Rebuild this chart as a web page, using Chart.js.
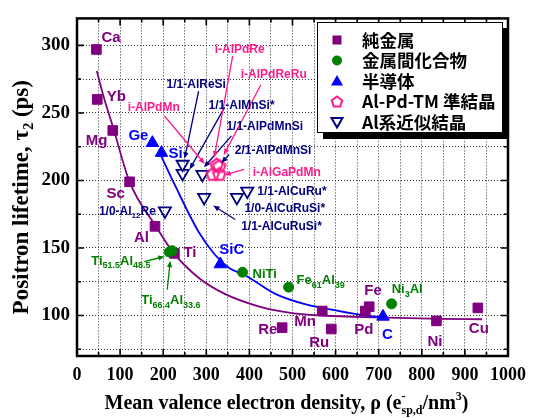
<!DOCTYPE html>
<html>
<head>
<meta charset="utf-8">
<script src="https://cdn.jsdelivr.net/npm/chart.js@4.4.1/dist/chart.umd.min.js"></script>
<style>
  html, body { margin: 0; padding: 0; background: #fff; }
  #wrap { width: 535px; height: 418px; }
</style>
</head>
<body>
<div id="wrap"><canvas id="c" width="535" height="418"></canvas></div>
<script>
// Positron lifetime tau2 (ps) against mean valence electron density rho (e-/nm^3)

// Pure metals
const metalNames = ['Ca', 'Yb', 'Mg', 'Sc', 'Al', 'Ti', 'Re', 'Mn', 'Ru', 'Pd', 'Fe', 'Ni', 'Cu'];
const metalRho   = [45, 47, 83, 122, 181, 226, 476, 569, 590, 669, 678, 834, 930];
const metalTau   = [297, 260, 237, 199, 166, 146, 91, 103.3, 90, 103.3, 106.5, 96, 105.6];

// Intermetallic compounds
const interNames = ['Ti51.5Al48.5', 'Ti66.4Al33.6', 'NiTi', 'Fe61Al39', 'Ni3Al'];
const interRho   = [214, 221, 384, 491, 730];
const interTau   = [147, 148, 132, 121, 108.6];

// Semiconductors
const semiNames = ['Ge', 'Si', 'SiC', 'C'];
const semiRho   = [175, 196, 332.5, 710];
const semiTau   = [227.8, 220.5, 138, 99.2];

// Al-Pd-TM quasicrystals
const qcNames = ['i-AlPdRe', 'i-AlPdReRu', 'i-AlPdMn', 'i-AlGaPdMn'];
const qcRho   = [324, 330, 315, 330];
const qcTau   = [211.8, 210.7, 204.8, 204.8];

// Al-based approximants
const apxNames = ['1/1-AlReSi', '1/1-AlMnSi*', '1/1-AlPdMnSi', '1/1-AlCuRuSi*', '1/0-AlCuRuSi*', '1/1-AlCuRu*', '1/0-Al12Re'];
const apxRho   = [245, 245, 291, 295, 371, 395, 204];
const apxTau   = [212, 205.2, 204.5, 187.4, 187.4, 192.1, 177.5];

// Guide curves
const metalCurveRho = [46, 60, 84, 122, 183, 225, 282, 343, 419, 495, 571, 693, 845, 940];
const metalCurveTau = [281, 264, 239, 199, 166, 146, 128, 116, 107, 102, 100, 98.6, 97.5, 97.2];
const semiCurveRho  = [194, 225, 282, 320, 354, 389, 460, 533, 571, 655, 712];
const semiCurveTau  = [219, 198, 162, 145, 135, 130, 116, 108, 105.5, 100.6, 98.5];

// Axis ticks
const xTicks = [0, 50, 100, 150, 200, 250, 300, 350, 400, 450, 500, 550, 600, 650, 700, 750, 800, 850, 900, 950, 1000];
const yTicks = [75, 100, 125, 150, 175, 200, 225, 250, 275, 300];
const xLabelStep = 100;
const yLabelStep = 50;

const legendItems = ['純金属', '金属間化合物', '半導体', 'Al-Pd-TM 準結晶', 'Al系近似結晶'];

const COL = {
  metal: '#800080',
  inter: '#008000',
  semi: '#0000ff',
  qc: '#ff1a8c',
  apx: '#000080'
};

// Text placement relative to each marker: [dx, dy] in px (left edge, baseline)
const labelStyle = {
  metal: { size: 15, color: COL.metal },
  semi:  { size: 15, color: COL.semi },
  inter: { size: 13, color: COL.inter },
  apx:   { size: 12, color: COL.apx },
  qc:    { size: 12, color: COL.qc }
};
const labelOffsets = {
  metal: [[5, -7.6], [9.4, 1.4], [-27, 15], [-23, 16], [-21, 16], [9, 4], [-24, 6], [-28, 15], [-22, 18], [-11, 23], [-5, -12], [-9, 25], [-9, 25]],
  semi:  [[-24, -2.5], [7, 5.5], [-1, -10], [-1, 22]],
  inter: [[-78, 12.5], [-31, 53], [10, 6], [8, -3], [0, -11]],
  apx:   [[-16, -76], [26, -64], [24, -44], [37, 33], [7.5, 15], [10, 3.5], [-66, 4]],
  qc:    [[-2, -111.5], [21.5, -88], [-85, -63], [33.5, 2]]
};
// Leader arrows: [group, index, sx, sy, ex, ey] relative to the marker
const arrows = [
  ['inter', 0, -25, 9.5, -4.5, 4.5],
  ['inter', 1, -5, 39, -2, 10],
  ['apx', 0, 16, -73, 2, -5.5],
  ['apx', 1, 42, -66, 7, -4],
  ['apx', 2, 29, -38.5, 1.5, -7],
  ['apx', 3, 31, 22, 9, 8],
  ['qc', 0, 16, -108.5, -2.4, -7],
  ['qc', 1, 41.5, -81, 4.5, -11],
  ['qc', 2, -48.3, -58, -8, -10],
  ['qc', 3, 25, -4.5, 5, 1],
  ['qc', 1, 10, -11.5, 2, -3, COL.apx]
];
// Extra label sharing the quasicrystal cluster
const extraLabels = [['qc', 1, '2/1-AlPdMnSi', 15.5, -12, 'apx']];

const groups = {
  metal: { rho: metalRho, tau: metalTau, names: metalNames },
  inter: { rho: interRho, tau: interTau, names: interNames },
  semi:  { rho: semiRho,  tau: semiTau,  names: semiNames },
  qc:    { rho: qcRho,    tau: qcTau,    names: qcNames },
  apx:   { rho: apxRho,   tau: apxTau,   names: apxNames }
};

function pts(xs, ys) { return xs.map((x, i) => ({ x: x, y: ys[i] })); }

// Pentagon marker
function makePentagon(r, color, lw) {
  const s = Math.ceil(2 * r + lw + 4);
  const cv = document.createElement('canvas');
  cv.width = s; cv.height = s;
  const g = cv.getContext('2d');
  pentagonPath(g, s / 2, s / 2 + 0.6, r);
  g.strokeStyle = color; g.lineWidth = lw; g.lineJoin = 'miter';
  g.stroke();
  return cv;
}
function pentagonPath(g, cx, cy, r) {
  g.beginPath();
  for (let k = 0; k < 5; k++) {
    const a = -Math.PI / 2 + k * 2 * Math.PI / 5;
    const x = cx + r * Math.cos(a), y = cy + r * Math.sin(a);
    if (k === 0) g.moveTo(x, y); else g.lineTo(x, y);
  }
  g.closePath();
}
const pentagonImg = makePentagon(6.5, COL.qc, 2);

// Split chemical formulas so that numbers following an element become subscripts
function parseFormula(s) {
  const out = [];
  let i = 0;
  const isSub = (k) => /[0-9]/.test(s[k]) && k > 0 && /[A-Za-z]/.test(s[k - 1]);
  while (i < s.length) {
    if (isSub(i)) {
      let j = i; while (j < s.length && /[0-9.]/.test(s[j])) j++;
      out.push({ t: s.slice(i, j), sub: true }); i = j;
    } else {
      let j = i + 1; while (j < s.length && !isSub(j)) j++;
      out.push({ t: s.slice(i, j), sub: false }); i = j;
    }
  }
  return out;
}
const SANS = '"Liberation Sans", Arial, sans-serif';
const SERIF = '"Liberation Serif", "Times New Roman", serif';
function drawRich(ctx, text, x, y, size, color) {
  const runs = parseFormula(text);
  const subSize = Math.round(size * 0.68);
  ctx.fillStyle = color;
  ctx.textAlign = 'left';
  ctx.textBaseline = 'alphabetic';
  let cx = x;
  for (const r of runs) {
    if (r.sub) { ctx.font = `bold ${subSize}px ${SANS}`; ctx.fillText(r.t, cx, y + size * 0.3); }
    else { ctx.font = `bold ${size}px ${SANS}`; ctx.fillText(r.t, cx, y); }
    cx += ctx.measureText(r.t).width;
  }
}
function drawArrow(ctx, sx, sy, ex, ey, color) {
  const ang = Math.atan2(ey - sy, ex - sx);
  const L = 6.5, W = 2.6;
  ctx.strokeStyle = color; ctx.fillStyle = color; ctx.lineWidth = 1.3;
  ctx.beginPath();
  ctx.moveTo(sx, sy);
  ctx.lineTo(ex - Math.cos(ang) * L * 0.8, ey - Math.sin(ang) * L * 0.8);
  ctx.stroke();
  ctx.beginPath();
  ctx.moveTo(ex, ey);
  ctx.lineTo(ex - L * Math.cos(ang) + W * Math.sin(ang), ey - L * Math.sin(ang) - W * Math.cos(ang));
  ctx.lineTo(ex - L * Math.cos(ang) - W * Math.sin(ang), ey - L * Math.sin(ang) + W * Math.cos(ang));
  ctx.closePath();
  ctx.fill();
}

// Frame, inward ticks, axis titles, annotations and legend
const decorPlugin = {
  id: 'decor',
  afterDatasetsDraw(chart) {
    const ctx = chart.ctx;
    const a = chart.chartArea;
    const xs = chart.scales.x, ys = chart.scales.y;
    ctx.save();

    // inward ticks on all four sides
    ctx.strokeStyle = '#000'; ctx.lineWidth = 1.6;
    xTicks.forEach(v => {
      const p = xs.getPixelForValue(v);
      const len = v % xLabelStep === 0 ? 7 : 4;
      ctx.beginPath();
      ctx.moveTo(p, a.bottom); ctx.lineTo(p, a.bottom - len);
      ctx.moveTo(p, a.top); ctx.lineTo(p, a.top + len);
      ctx.stroke();
    });
    yTicks.forEach(v => {
      const p = ys.getPixelForValue(v);
      const len = v % yLabelStep === 0 ? 7 : 4;
      ctx.beginPath();
      ctx.moveTo(a.left, p); ctx.lineTo(a.left + len, p);
      ctx.moveTo(a.right, p); ctx.lineTo(a.right - len, p);
      ctx.stroke();
    });
    // frame
    ctx.lineWidth = 2.5;
    ctx.strokeRect(a.left, a.top, a.right - a.left, a.bottom - a.top);

    // leader arrows
    const at = (g, i) => [xs.getPixelForValue(groups[g].rho[i]), ys.getPixelForValue(groups[g].tau[i])];
    arrows.forEach(([g, i, sx, sy, ex, ey, c]) => {
      const [x0, y0] = at(g, i);
      drawArrow(ctx, x0 + sx, y0 + sy, x0 + ex, y0 + ey, c || labelStyle[g].color);
    });

    // point labels
    Object.keys(groups).forEach(g => {
      groups[g].names.forEach((name, i) => {
        const [x0, y0] = at(g, i);
        const [dx, dy] = labelOffsets[g][i];
        drawRich(ctx, name, x0 + dx, y0 + dy, labelStyle[g].size, labelStyle[g].color);
      });
    });
    extraLabels.forEach(([g, i, text, dx, dy, st]) => {
      const [x0, y0] = at(g, i);
      drawRich(ctx, text, x0 + dx, y0 + dy, labelStyle[st].size, labelStyle[st].color);
    });

    // legend box with drop shadow
    const lb = { x: 317, y: 22, w: 186, h: 111 };
    ctx.fillStyle = '#000';
    ctx.fillRect(lb.x + 6, lb.y + 6, lb.w, lb.h);
    ctx.fillStyle = '#fff';
    ctx.fillRect(lb.x, lb.y, lb.w, lb.h);
    ctx.lineWidth = 1; ctx.strokeStyle = '#000';
    ctx.strokeRect(lb.x + 0.5, lb.y + 0.5, lb.w - 1, lb.h - 1);
    const mx = lb.x + 20, tx = lb.x + 45;
    legendItems.forEach((txt, k) => {
      const cy = lb.y + 18 + k * 20.5;
      ctx.save();
      if (k === 0) { ctx.fillStyle = COL.metal; ctx.fillRect(mx - 4.5, cy - 4.5, 9, 9); }
      if (k === 1) { ctx.fillStyle = COL.inter; ctx.beginPath(); ctx.arc(mx, cy, 5, 0, 2 * Math.PI); ctx.fill(); }
      if (k === 2) {
        ctx.fillStyle = COL.semi; ctx.beginPath();
        ctx.moveTo(mx, cy - 6); ctx.lineTo(mx + 6, cy + 4.5); ctx.lineTo(mx - 6, cy + 4.5); ctx.closePath(); ctx.fill();
      }
      if (k === 3) { pentagonPath(ctx, mx, cy + 0.5, 5.5); ctx.strokeStyle = COL.qc; ctx.lineWidth = 2; ctx.stroke(); }
      if (k === 4) {
        ctx.strokeStyle = COL.apx; ctx.lineWidth = 2; ctx.beginPath();
        ctx.moveTo(mx - 5.5, cy - 4); ctx.lineTo(mx + 5.5, cy - 4); ctx.lineTo(mx, cy + 5.5); ctx.closePath(); ctx.stroke();
      }
      ctx.restore();
      ctx.fillStyle = '#000';
      ctx.font = `bold 17.5px "Noto Sans CJK JP", "Noto Sans CJK SC", sans-serif`;
      ctx.textAlign = 'left'; ctx.textBaseline = 'middle';
      ctx.fillText(txt, tx, cy);
    });

    // axis titles
    ctx.fillStyle = '#000';
    ctx.textBaseline = 'alphabetic';
    ctx.textAlign = 'left';
    const big = `bold 20px ${SERIF}`, small = `bold 12px ${SERIF}`;
    const xParts = [['Mean valence electron density, \u03C1 (e', 0], ['-', 1, 'sp,d'], ['/nm', 0], ['3', 2], [')', 0]];
    ctx.font = big;
    let w = 0;
    const widths = xParts.map(p => {
      if (p[1] === 0) { ctx.font = big; return ctx.measureText(p[0]).width; }
      ctx.font = small;
      return Math.max(ctx.measureText(p[0]).width, p[2] ? ctx.measureText(p[2]).width : 0);
    });
    widths.forEach(v => w += v);
    let cx = (a.left + a.right) / 2 - w / 2 - 6;
    const by = 409;
    xParts.forEach((p, k) => {
      if (p[1] === 0) { ctx.font = big; ctx.fillText(p[0], cx, by); }
      else {
        ctx.font = small;
        ctx.fillText(p[0], cx, by - 9);
        if (p[2]) ctx.fillText(p[2], cx, by + 5);
      }
      cx += widths[k];
    });

    ctx.save();
    ctx.translate(28, (a.top + a.bottom) / 2 + 10);
    ctx.rotate(-Math.PI / 2);
    const ybig = `bold 23px ${SERIF}`, ysmall = `bold 14px ${SERIF}`;
    const yParts = [['Positron lifetime, \u03C4', 0], ['2', 1], [' (ps)', 0]];
    let yw = 0;
    const ywid = yParts.map(p => { ctx.font = p[1] ? ysmall : ybig; return ctx.measureText(p[0]).width; });
    ywid.forEach(v => yw += v);
    let ycx = -yw / 2;
    yParts.forEach((p, k) => {
      ctx.font = p[1] ? ysmall : ybig;
      ctx.fillText(p[0], ycx, p[1] ? 5 : 0);
      ycx += ywid[k];
    });
    ctx.restore();

    ctx.restore();
  }
};

const chart = new Chart(document.getElementById('c'), {
  type: 'scatter',
  data: {
    datasets: [
      {
        label: 'metal-curve', data: pts(metalCurveRho, metalCurveTau), showLine: true,
        borderColor: COL.metal, borderWidth: 1.8, pointRadius: 0, cubicInterpolationMode: 'monotone', order: 10
      },
      {
        label: 'semi-curve', data: pts(semiCurveRho, semiCurveTau), showLine: true,
        borderColor: COL.semi, borderWidth: 1.8, pointRadius: 0, cubicInterpolationMode: 'monotone', order: 9
      },
      {
        label: legendItems[0], data: pts(metalRho, metalTau), pointStyle: 'rect',
        pointRadius: 6.8, backgroundColor: COL.metal, borderColor: COL.metal, borderWidth: 1, order: 5
      },
      {
        label: legendItems[1], data: pts(interRho, interTau), pointStyle: 'circle',
        pointRadius: 5, backgroundColor: COL.inter, borderColor: COL.inter, borderWidth: 1, order: 4
      },
      {
        label: legendItems[2], data: pts(semiRho, semiTau), pointStyle: 'triangle',
        pointRadius: 7.2, backgroundColor: COL.semi, borderColor: COL.semi, borderWidth: 1, order: 3
      },
      {
        label: legendItems[3], data: pts(qcRho, qcTau), pointStyle: pentagonImg,
        pointRadius: 7, order: 1
      },
      {
        label: legendItems[4], data: pts(apxRho, apxTau), pointStyle: 'triangle', rotation: 180,
        pointRadius: 7, backgroundColor: 'rgba(0,0,0,0)', borderColor: COL.apx, borderWidth: 1.8, order: 2
      }
    ]
  },
  options: {
    responsive: false,
    animation: false,
    devicePixelRatio: 1,
    events: [],
    layout: { padding: { top: 13, right: 20, left: 0, bottom: 0 } },
    plugins: { legend: { display: false }, tooltip: { enabled: false } },
    scales: {
      x: {
        type: 'linear', min: 0, max: 1000,
        afterBuildTicks: s => { s.ticks = xTicks.map(v => ({ value: v })); },
        afterFit: s => { s.height = 62; },
        grid: { color: '#333', lineWidth: 1, drawTicks: false },
        border: { display: false, dash: [1, 2] },
        ticks: {
          autoSkip: false, maxRotation: 0, padding: 9, color: '#000',
          font: { family: SERIF, size: 18, weight: 'bold' },
          callback: v => (v % xLabelStep === 0 ? String(v) : '')
        }
      },
      y: {
        type: 'linear', min: 70, max: 320,
        afterBuildTicks: s => { s.ticks = yTicks.map(v => ({ value: v })); },
        afterFit: s => { s.width = 77; },
        grid: { color: '#333', lineWidth: 1, drawTicks: false },
        border: { display: false, dash: [1, 2] },
        ticks: {
          autoSkip: false, padding: 7, color: '#000',
          font: { family: SERIF, size: 19, weight: 'bold' },
          callback: v => (v % yLabelStep === 0 ? String(v) : '')
        }
      }
    }
  },
  plugins: [decorPlugin]
});
</script>
</body>
</html>
